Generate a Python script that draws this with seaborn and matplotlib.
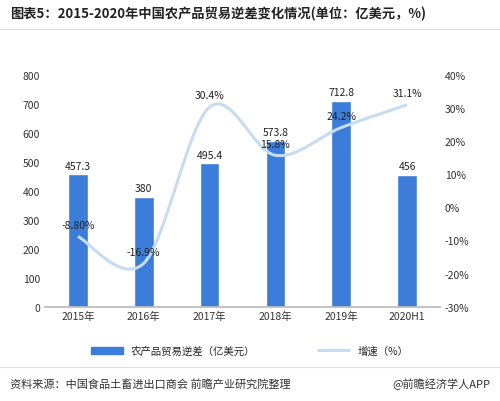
import matplotlib
matplotlib.use("Agg")
import matplotlib.pyplot as plt
import seaborn as sns
import numpy as np
import pandas as pd
from matplotlib.path import Path
from matplotlib.patches import PathPatch

years = ["2015年", "2016年", "2017年", "2018年", "2019年", "2020H1"]
deficit = [457.3, 380, 495.4, 573.8, 712.8, 456]
growth = [-8.80, -16.9, 30.4, 15.8, 24.2, 31.1]
growth_labels = ["-8.80%", "-16.9%", "30.4%", "15.8%", "24.2%", "31.1%"]

sns.set_theme(style="white")
plt.rcParams['font.family'] = ['Noto Sans CJK SC', 'DejaVu Sans']

fig = plt.figure(figsize=(5, 4.02), dpi=100)
ax = fig.add_axes([0.09, 0.235, 0.79, 0.575])
df = pd.DataFrame({"year": years, "v": deficit})
sns.barplot(data=df, x="year", y="v", color="#3b7dd8", saturation=1, width=0.3, ax=ax)
ax.set_ylim(0, 800)
ax.set_yticks(range(0, 801, 100))
ax.set_xlabel("")
ax.set_ylabel("")
ax.tick_params(labelsize=7.5, colors="#333333", length=0)
for i, v in enumerate(deficit):
    ax.text(i, v + 12, f"{v:g}", ha="center", va="bottom", fontsize=7.5, color="#222222")
for s in ["top", "right", "left"]:
    ax.spines[s].set_visible(False)
ax.spines["bottom"].set_color("#bbbbbb")

ax2 = ax.twinx()
ax2.set_ylim(-30, 40)
ax2.set_yticks(range(-30, 41, 10))
ax2.set_yticklabels([f"{t}%" for t in range(-30, 41, 10)])
ax2.tick_params(labelsize=7.5, colors="#333333", length=0)
for s in ax2.spines.values():
    s.set_visible(False)

# smooth curve through the points (Catmull-Rom as cubic Bezier)
x = np.arange(len(growth), dtype=float)
y = np.array(growth)
px = np.concatenate([[x[0]], x, [x[-1]]])
py = np.concatenate([[y[0]], y, [y[-1]]])
verts = [(x[0], y[0])]
codes = [Path.MOVETO]
for i in range(1, len(px) - 2):
    c1 = (px[i] + (px[i + 1] - px[i - 1]) / 6, py[i] + (py[i + 1] - py[i - 1]) / 6)
    c2 = (px[i + 1] - (px[i + 2] - px[i]) / 6, py[i + 1] - (py[i + 2] - py[i]) / 6)
    verts += [c1, c2, (px[i + 1], py[i + 1])]
    codes += [Path.CURVE4] * 3
ax2.add_patch(PathPatch(Path(verts, codes), facecolor="none", edgecolor="#c5dcf3", lw=2.2))
for i, lab in enumerate(growth_labels):
    ax2.text(i, growth[i] + 2, lab, ha="center", va="bottom", fontsize=7.5, color="#222222")

fig.text(0.02, 0.955, "图表5：2015-2020年中国农产品贸易逆差变化情况(单位：亿美元，%)",
         fontsize=9.5, fontweight="bold", color="#222222")
fig.lines.append(plt.Line2D([0.0, 1.0], [0.925, 0.925], color="#dddddd", lw=0.8, transform=fig.transFigure))

from matplotlib.patches import Patch
from matplotlib.lines import Line2D
handles = [Patch(color="#3b7dd8"), Line2D([], [], color="#c5dcf3", lw=2.2)]
fig.legend(handles, ["农产品贸易逆差（亿美元）", "增速（%）"], loc="center", bbox_to_anchor=(0.5, 0.125),
           ncol=2, frameon=False, fontsize=7.5, columnspacing=6, handlelength=3)

fig.lines.append(plt.Line2D([0.0, 1.0], [0.085, 0.085], color="#dddddd", lw=0.8, transform=fig.transFigure))
fig.text(0.02, 0.035, "资料来源：中国食品土畜进出口商会 前瞻产业研究院整理", fontsize=8, color="#333333")
fig.text(0.98, 0.035, "@前瞻经济学人APP", fontsize=8, color="#333333", ha="right")

fig.savefig("out.png", dpi=100)
